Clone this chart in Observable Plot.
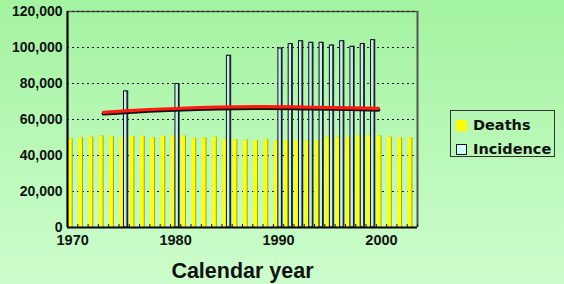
<!DOCTYPE html>
<html><head><meta charset="utf-8">
<script src="https://cdn.jsdelivr.net/npm/d3@7"></script>
<script src="https://cdn.jsdelivr.net/npm/@observablehq/plot@0.6"></script>
<style>
html,body{margin:0;padding:0;}
body{width:564px;height:284px;background:linear-gradient(#a3f3a0,#cdfdcd);position:relative;overflow:hidden;}
#chart svg{display:block;background:transparent;}
#legend{position:absolute;left:450px;top:110px;width:105px;height:47px;border:1px solid #333;box-sizing:border-box;font:bold 14.5px "DejaVu Sans";color:#111;}
.row{position:absolute;left:5px;height:14px;display:flex;align-items:center;white-space:nowrap;}
.sw{width:11px;height:11px;box-sizing:border-box;margin-right:6px;flex:none;}
</style></head><body>
<div id="chart"></div>
<div id="legend">
  <div class="row" style="top:7px"><div class="sw" style="background:#ffff00"></div>Deaths</div>
  <div class="row" style="top:31px"><div class="sw" style="background:#ccffff;border:1px solid #111"></div>Incidence</div>
</div>
<script>
const deathYears = [1970,1971,1972,1973,1974,1975,1976,1977,1978,1979,1980,1981,1982,1983,1984,1985,1986,1987,1988,1989,1990,1991,1992,1993,1994,1995,1996,1997,1998,1999,2000,2001,2002,2003];
const deathValues = [49100,49700,50200,50900,50400,50000,50600,50600,49800,50600,50900,50800,49300,49700,50200,49100,48700,48700,48300,48900,48000,48300,48300,48000,48300,50200,50200,50000,50900,50800,50900,50200,49700,49800];
const incYears = [1975,1980,1985,1990,1991,1992,1993,1994,1995,1996,1997,1998,1999];
const incValues = [75600,79700,95400,99400,101900,103500,102600,102600,101100,103500,100400,101900,104100];
const trendYears = [1973.0,1975.1,1980.0,1987.8,1993.1,1997.0,1999.7];
const trendValues = [64000,64800,66100,67100,66800,66500,66200];
const yTicks = [0,20000,40000,60000,80000,100000,120000];
const xTickLabels = [1970,1980,1990,2000];

const deaths = deathYears.map((y,i)=>({year:y,value:deathValues[i]}));
const inc = incYears.map((y,i)=>({year:y,value:incValues[i]}));
const trend = trendYears.map((y,i)=>({year:y,value:trendValues[i]}));
const x0 = deathYears[0]-0.5, x1 = deathYears[deathYears.length-1]+0.5;
const bounds = d3.range(deathYears.length+1).map(i=>x0+i);
const numFont = "Liberation Sans, Arial, sans-serif";

const chart = Plot.plot({
  width:564, height:284,
  marginLeft:67, marginRight:147, marginTop:11, marginBottom:57,
  style:{background:"transparent", fontFamily:numFont, color:"#111"},
  x:{type:"linear", domain:[x0,x1], label:null},
  y:{domain:[0,120000], label:null},
  marks:[
    Plot.ruleY([120000],{stroke:"#555",strokeWidth:1.5}),
    Plot.ruleX([x1],{stroke:"#555",strokeWidth:2}),
    Plot.ruleY(yTicks.filter(d=>d>0),{stroke:"#111",strokeDasharray:"2,3",strokeWidth:1}),
    Plot.rectY(deaths,{x1:d=>d.year-0.5,x2:d=>d.year+0.5,y1:0,y2:"value",insetLeft:2,insetRight:4.6,fill:"#a6a600"}),
    Plot.rectY(deaths,{x1:d=>d.year-0.5,x2:d=>d.year+0.5,y1:0,y2:"value",insetLeft:1,insetRight:5.6,fill:"#ffff00"}),
    Plot.rectY(inc,{x1:d=>d.year-0.5,x2:d=>d.year+0.5,y1:0,y2:"value",insetLeft:6,insetRight:0.5,fill:"#2e3b3b",dy:-0.5}),
    Plot.rectY(inc,{x1:d=>d.year-0.5,x2:d=>d.year+0.5,y1:0,y2:"value",insetLeft:5,insetRight:1.8,fill:"#c4f0f2",stroke:"#111",strokeWidth:1}),
    Plot.line(trend,{x:"year",y:"value",curve:"natural",stroke:"#111",strokeWidth:4,dy:1.3}),
    Plot.line(trend,{x:"year",y:"value",curve:"natural",stroke:"#ff1a10",strokeWidth:3.2}),
    Plot.ruleX(bounds,{x:d=>d,y1:0,y2:1700,stroke:"#111",strokeWidth:1}),
    Plot.ruleX([x0],{stroke:"#000",strokeWidth:2.2}),
    Plot.ruleY([0],{stroke:"#000",strokeWidth:2.2}),
    Plot.axisY({ticks:yTicks,tickFormat:d3.format(","),tickSize:0,tickPadding:5,fontSize:14,fontWeight:"bold",fontFamily:numFont,fill:"#111",label:null}),
    Plot.axisX({ticks:xTickLabels,tickFormat:d3.format("d"),tickSize:0,tickPadding:7,fontSize:14.5,fontWeight:"bold",fontFamily:numFont,fill:"#111",label:null}),
    Plot.text(["Calendar year"],{text:d=>d,frameAnchor:"bottom",dy:50,lineAnchor:"bottom",fontSize:21.5,fontWeight:"bold",fontFamily:numFont,fill:"#111",style:"letter-spacing:0.6px"})
  ]
});
document.getElementById("chart").appendChild(chart);
</script>
</body></html>
